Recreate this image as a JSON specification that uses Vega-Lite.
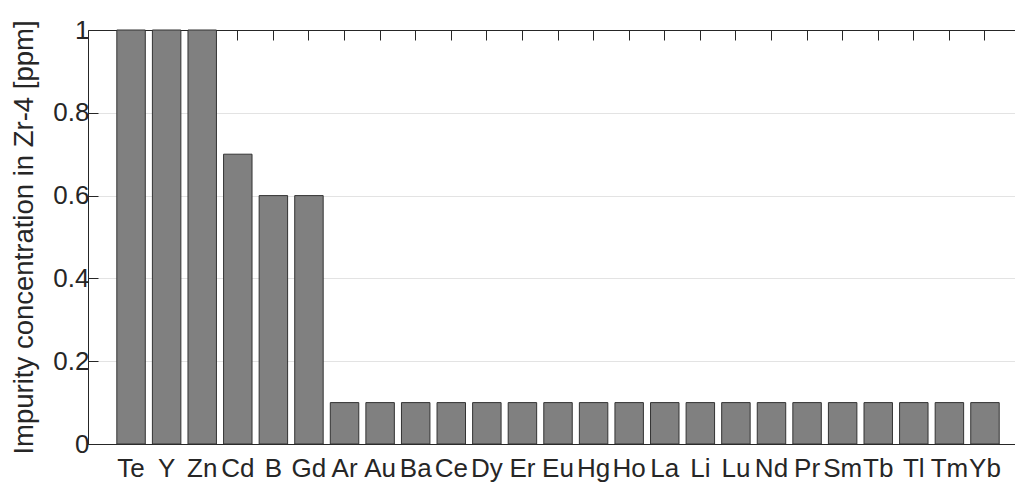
{
  "$schema": "https://vega.github.io/schema/vega-lite/v6.json",
  "width": 927,
  "height": 414,
  "autosize": {"type": "none"},
  "padding": {"left": 88, "top": 30, "right": 0, "bottom": 40},
  "background": "white",
  "config": {
    "view": {"stroke": null},
    "font": "Liberation Sans"
  },
  "data": {
    "values": [
      {"el": "Te", "v": 1},
      {"el": "Y", "v": 1},
      {"el": "Zn", "v": 1},
      {"el": "Cd", "v": 0.7},
      {"el": "B", "v": 0.6},
      {"el": "Gd", "v": 0.6},
      {"el": "Ar", "v": 0.1},
      {"el": "Au", "v": 0.1},
      {"el": "Ba", "v": 0.1},
      {"el": "Ce", "v": 0.1},
      {"el": "Dy", "v": 0.1},
      {"el": "Er", "v": 0.1},
      {"el": "Eu", "v": 0.1},
      {"el": "Hg", "v": 0.1},
      {"el": "Ho", "v": 0.1},
      {"el": "La", "v": 0.1},
      {"el": "Li", "v": 0.1},
      {"el": "Lu", "v": 0.1},
      {"el": "Nd", "v": 0.1},
      {"el": "Pr", "v": 0.1},
      {"el": "Sm", "v": 0.1},
      {"el": "Tb", "v": 0.1},
      {"el": "Tl", "v": 0.1},
      {"el": "Tm", "v": 0.1},
      {"el": "Yb", "v": 0.1}
    ]
  },
  "layer": [
    {
      "mark": {"type": "bar", "fill": "#808080", "stroke": "#333333", "strokeWidth": 1},
      "encoding": {
        "x": {
          "field": "el", "type": "nominal", "sort": null,
          "scale": {"paddingInner": 0.2, "paddingOuter": 0.627, "align": 0.646},
          "axis": {
            "orient": "bottom", "title": null, "labelAngle": 0,
            "labelFont": "Liberation Sans", "labelFontSize": 26, "labelColor": "#262626",
            "domainColor": "#262626", "tickColor": "#262626",
            "tickSize": -10, "labelPadding": 21, "domainWidth": 1, "labelOverlap": false
          }
        },
        "y": {
          "field": "v", "type": "quantitative",
          "scale": {"domain": [0, 1], "nice": false},
          "axis": {
            "orient": "left",
            "title": "Impurity concentration in Zr-4 [ppm]",
            "labelFont": "Liberation Sans", "labelFontSize": 26, "labelColor": "#262626",
            "titleFont": "Liberation Sans", "titleFontSize": 27.5, "titleColor": "#262626",
            "titleFontWeight": "normal",
            "domainColor": "#262626", "tickColor": "#262626",
            "values": [0, 0.2, 0.4, 0.6, 0.8, 1],
            "format": "~g",
            "tickSize": -10,
            "labelPadding": 9,
            "grid": true,
            "gridColor": "#e3e3e3",
            "titleX": -56,
            "titleY": 207,
            "titleBaseline": "alphabetic",
            "titleAngle": -90
          }
        }
      }
    },
    {
      "mark": {"type": "bar", "opacity": 0},
      "encoding": {
        "x": {
          "field": "el", "type": "nominal", "sort": null,
          "axis": {"orient": "top", "title": null, "labels": false, "tickSize": -10, "domainWidth": 1,
                   "domainColor": "#262626", "tickColor": "#262626"}
        },
        "y": {"field": "v", "type": "quantitative"}
      }
    }
  ],
  "resolve": {"axis": {"x": "independent"}}
}
